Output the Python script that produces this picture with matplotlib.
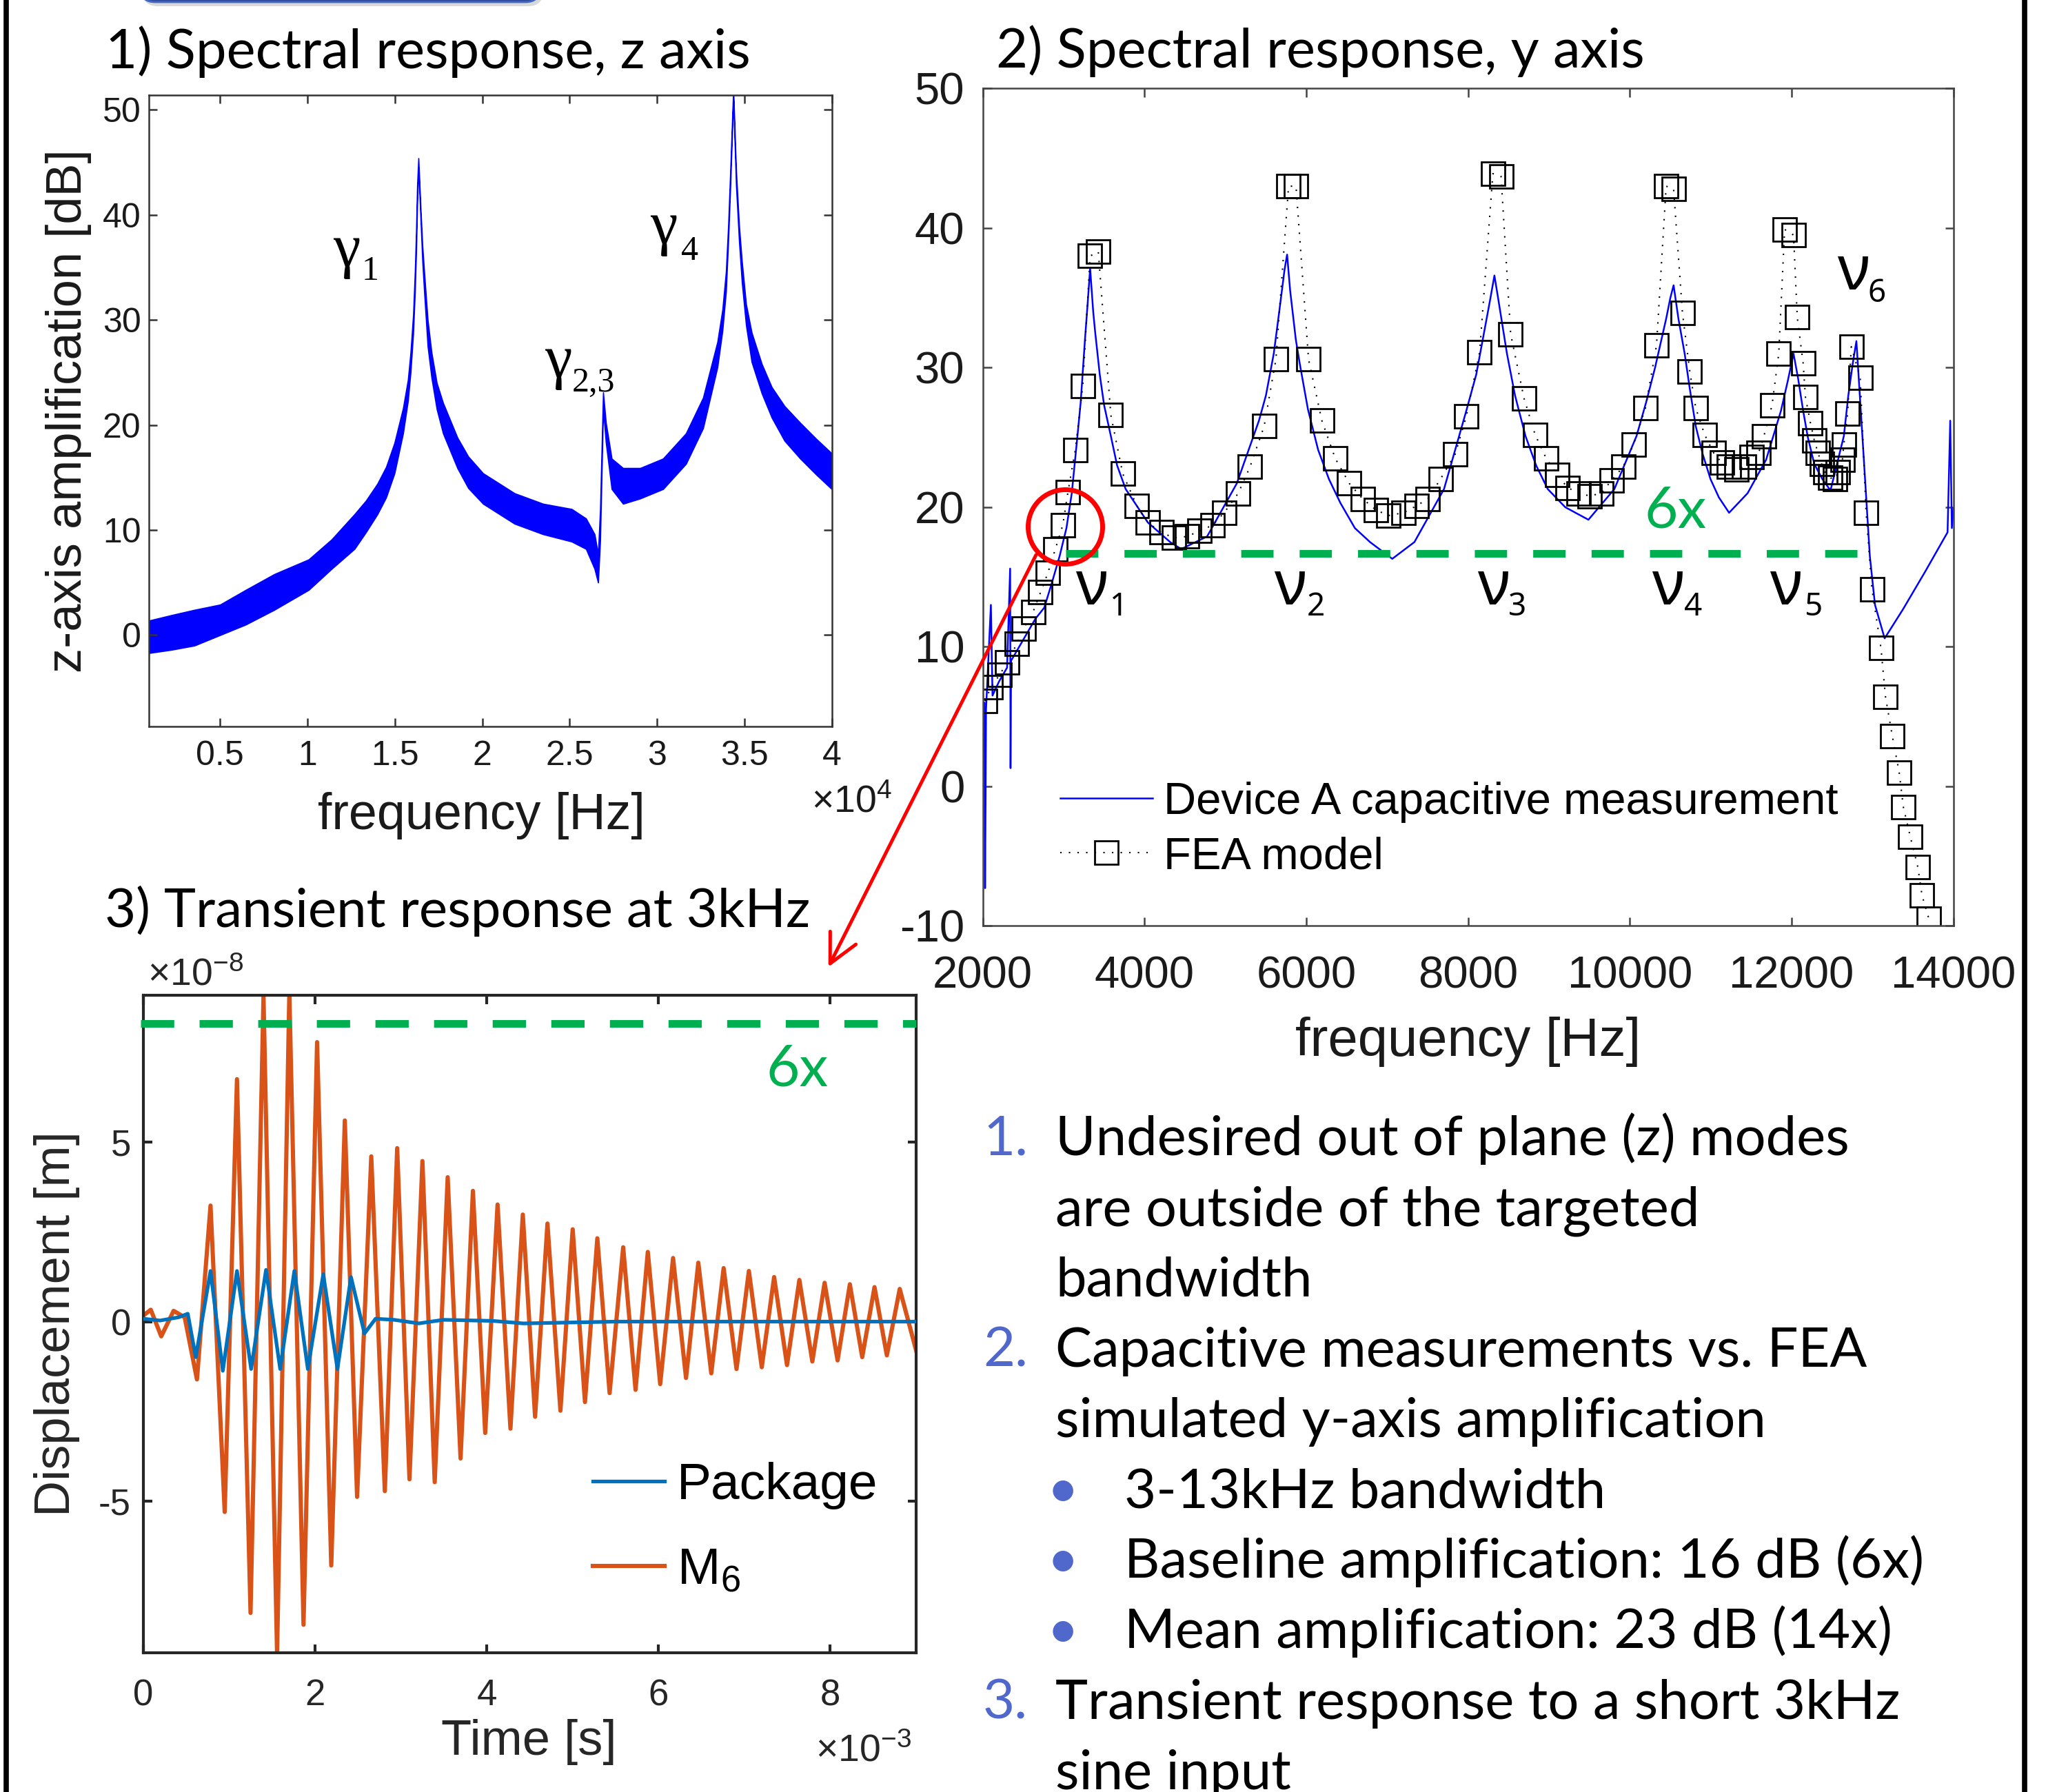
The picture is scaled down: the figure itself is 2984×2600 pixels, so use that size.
import matplotlib
matplotlib.use("Agg")
import matplotlib.pyplot as plt
from matplotlib.patches import Circle, FancyBboxPatch

##################################################
# Data
##################################################

# 1) z axis spectrum: measured trace is a noisy band, kept as upper / lower edge
z_freq = [910, 980, 2220, 3530, 5000, 6470, 8100, 10070, 11380, 12690,
          13350, 14000, 14500, 14980, 15470, 15750, 15900, 16050, 16150, 16220,
          16280, 16350, 16480, 16580, 16680, 16880, 17100, 17400, 17760, 18580,
          19200, 20050, 21850, 23480, 25120, 25940, 26430, 26630, 26750, 26920,
          27080, 27410, 28060, 29040, 30350, 31660, 32640, 33460, 33750, 33950,
          34080, 34200, 34370, 34530, 34700, 34860, 35100, 35420, 36000, 36570,
          37300, 38200, 39100, 40000]
z_hi = [1.3, 1.4, 1.9, 2.4, 2.9, 4.3, 5.8, 7.2, 9.1, 11.5,
        12.8, 14.4, 16.0, 18.3, 21.6, 24.3, 26.9, 30.5, 34.6, 38.5,
        42.8, 45.4, 40.4, 37.0, 34.6, 30.0, 26.9, 24.0, 22.1, 18.8,
        17.0, 15.4, 13.5, 12.5, 12.0, 11.1, 9.6, 7.7, 12.0, 23.1,
        20.2, 16.8, 15.9, 15.9, 16.8, 19.2, 22.6, 27.9, 31.0, 34.6,
        39.0, 44.2, 52.0, 44.2, 39.0, 35.6, 31.5, 28.8, 25.8, 23.6,
        21.8, 20.2, 18.7, 17.3]
z_lo = [-1.7, -1.7, -1.4, -1.0, 0.0, 1.0, 2.4, 4.3, 6.3, 8.2,
        9.8, 11.5, 13.1, 15.4, 19.2, 22.3, 25.0, 28.7, 32.7, 36.5,
        41.0, 44.5, 39.4, 35.5, 32.7, 27.5, 24.5, 21.5, 19.2, 15.9,
        14.0, 12.5, 10.6, 9.6, 8.9, 8.2, 6.3, 5.0, 9.0, 21.5,
        18.3, 13.9, 12.5, 13.0, 13.9, 16.3, 19.7, 25.5, 29.0, 32.7,
        37.5, 42.8, 51.0, 42.8, 37.5, 33.6, 29.5, 26.0, 23.0, 20.7,
        18.5, 16.8, 15.3, 13.9]
z_xticks = [5000, 10000, 15000, 20000, 25000, 30000, 35000, 40000]
z_xticklabels = ["0.5", "1", "1.5", "2", "2.5", "3", "3.5", "4"]
z_yticks = [0, 10, 20, 30, 40, 50]

# 2) y axis spectrum: capacitive measurement
y_meas_freq = [2000, 2020, 2028, 2040, 2100, 2120, 2200, 2300, 2338, 2343,
               2350, 2450, 2550, 2650, 2760, 2850, 2950, 3034, 3100, 3170,
               3210, 3263, 3295, 3327, 3365, 3390, 3446, 3500, 3583, 3660,
               3766, 4041, 4316, 4453, 4773, 5140, 5414, 5500, 5597, 5660,
               5730, 5762, 5800, 5870, 5918, 6020, 6146, 6280, 6421, 6600,
               6787, 7062, 7336, 7702, 7977, 8100, 8206, 8270, 8325, 8370,
               8480, 8580, 8709, 8840, 8984, 9200, 9487, 9808, 10082, 10200,
               10311, 10448, 10500, 10540, 10600, 10677, 10740, 10814, 10900, 10997,
               11100, 11226, 11455, 11684, 11867, 11950, 12023, 12080, 12142, 12200,
               12279, 12380, 12480, 12645, 12700, 12755, 12800, 12874, 12966, 13030,
               13149, 13378, 13652, 13927, 13960, 13980, 14000]
y_meas_db = [4.5, 6.0, -7.3, 5.5, 13.0, 6.5, 7.5, 8.5, 15.6, 1.3,
             9.0, 10.0, 11.0, 12.0, 12.8, 14.5, 16.5, 18.5, 21.0, 25.1,
             27.5, 32.0, 34.5, 37.1, 34.0, 32.5, 29.5, 27.3, 25.1, 23.0,
             21.3, 18.9, 17.5, 17.0, 17.9, 21.7, 26.2, 28.0, 31.0, 33.8,
             37.0, 38.1, 35.5, 32.0, 30.3, 27.0, 24.1, 22.0, 20.3, 18.5,
             17.5, 16.3, 17.5, 21.3, 26.9, 29.5, 32.8, 34.8, 36.6, 35.0,
             31.0, 28.0, 25.1, 23.0, 21.3, 20.0, 19.1, 21.3, 25.1, 27.5,
             30.0, 33.5, 35.0, 35.9, 33.5, 31.0, 28.5, 25.8, 23.8, 22.0,
             20.7, 19.6, 21.0, 23.4, 26.9, 29.0, 31.0, 29.2, 26.9, 25.0,
             23.1, 22.0, 21.2, 25.1, 28.0, 30.3, 31.9, 25.1, 16.5, 13.0,
             10.6, 12.7, 15.4, 18.2, 26.2, 18.5, 19.9]

# 2) y axis spectrum: FEA model
fea_freq = [2027, 2100, 2210, 2302, 2421, 2503, 2622, 2714, 2805, 2897,
            2988, 3053, 3144, 3236, 3327, 3428, 3583, 3730, 3904, 4041,
            4206, 4361, 4526, 4682, 4837, 4984, 5158, 5304, 5478, 5624,
            5780, 5872, 6027, 6192, 6357, 6531, 6696, 6860, 7016, 7199,
            7364, 7501, 7657, 7840, 7977, 8142, 8306, 8407, 8526, 8691,
            8828, 8965, 9102, 9231, 9368, 9505, 9643, 9771, 9917, 10045,
            10192, 10329, 10448, 10540, 10650, 10741, 10814, 10924, 11034, 11135,
            11226, 11318, 11409, 11501, 11592, 11657, 11757, 11840, 11913, 12023,
            12069, 12142, 12170, 12233, 12279, 12325, 12370, 12416, 12480, 12535,
            12572, 12627, 12645, 12691, 12737, 12847, 12920, 12993, 13104, 13160,
            13244, 13329, 13381, 13466, 13560, 13611, 13696]
fea_db = [6.1, 7.1, 8.0, 8.9, 10.2, 11.3, 12.5, 13.9, 15.3, 17.0,
          18.7, 21.1, 24.1, 28.7, 38.0, 38.3, 26.6, 22.4, 20.1, 18.9,
          18.2, 17.8, 17.9, 18.3, 18.7, 19.6, 21.0, 22.9, 25.8, 30.6,
          43.0, 43.0, 30.6, 26.2, 23.5, 21.7, 20.6, 19.8, 19.4, 19.6,
          20.1, 20.6, 22.0, 23.8, 26.5, 31.1, 43.9, 43.7, 32.4, 27.8,
          25.2, 23.5, 22.3, 21.4, 21.0, 20.8, 21.0, 21.9, 22.9, 24.5,
          27.1, 31.6, 43.0, 42.8, 33.9, 29.7, 27.1, 25.2, 23.9, 23.2,
          22.9, 22.7, 22.9, 23.6, 23.9, 25.1, 27.3, 31.0, 39.9, 39.5,
          33.6, 30.3, 27.9, 26.0, 24.8, 23.9, 23.1, 22.5, 22.1, 22.0,
          22.5, 23.4, 24.5, 26.7, 31.5, 29.3, 19.6, 14.1, 9.9, 6.4,
          3.6, 1.0, -1.5, -3.6, -5.8, -7.8, -9.5]
y_xticks = [2000, 4000, 6000, 8000, 10000, 12000, 14000]
y_yticks = [-10, 0, 10, 20, 30, 40, 50]
baseline_db = 16.7              # 16 dB (6x) baseline
baseline_band = [3025, 12876]   # Hz

# 3) transient response (time in ms, displacement in 1e-8 m)
t_m6 = [0.0, 0.086, 0.208, 0.352, 0.481, 0.624, 0.782, 0.947, 1.090, 1.248,
        1.399, 1.557, 1.700, 1.865, 2.023, 2.188, 2.346, 2.489, 2.654, 2.812,
        2.956, 3.099, 3.250, 3.393, 3.544, 3.694, 3.838, 3.981, 4.125, 4.275,
        4.419, 4.562, 4.706, 4.857, 5.000, 5.143, 5.287, 5.430, 5.588, 5.732,
        5.875, 6.019, 6.169, 6.320, 6.463, 6.614, 6.758, 6.908, 7.052, 7.202,
        7.346, 7.496, 7.640, 7.791, 7.934, 8.085, 8.228, 8.372, 8.515, 8.659,
        8.809, 9.003]
d_m6 = [0.17, 0.33, -0.41, 0.30, 0.12, -1.61, 3.23, -5.30, 6.75, -8.11,
        9.06, -9.27, 9.16, -8.44, 7.78, -6.79, 5.60, -4.88, 4.60, -4.72,
        4.83, -4.39, 4.47, -4.47, 4.02, -3.81, 3.64, -3.10, 3.26, -2.98,
        2.98, -2.65, 2.73, -2.48, 2.57, -2.24, 2.32, -1.99, 2.07, -1.90,
        1.94, -1.74, 1.77, -1.57, 1.64, -1.44, 1.49, -1.32, 1.41, -1.27,
        1.24, -1.21, 1.16, -1.11, 1.08, -1.08, 1.04, -0.99, 0.96, -0.94,
        0.91, -0.83]
t_pkg = [0.0, 0.194, 0.409, 0.517, 0.610, 0.782, 0.925, 1.090, 1.255, 1.428,
         1.593, 1.758, 1.915, 2.095, 2.260, 2.418, 2.575, 2.704, 2.920, 3.207,
         3.494, 4.067, 4.426, 5.502, 9.003]
d_pkg = [0.08, 0.03, 0.12, 0.22, -0.99, 1.41, -1.37, 1.41, -1.32, 1.44,
         -1.32, 1.41, -1.32, 1.32, -1.32, 1.24, -0.33, 0.08, 0.05, -0.05,
         0.05, 0.02, -0.05, 0.0, 0.0]
t_xticks = [0, 2, 4, 6, 8]
d_yticks = [-5, 0, 5]
six_x_disp = 8.3            # 6x level, 1e-8 m
six_x_span = [-0.032, 9.0]  # ms

# side notes
note_lines = [
    ("1.", "Undesired out of plane (z) modes"),
    ("", "are outside of the targeted"),
    ("", "bandwidth"),
    ("2.", "Capacitive measurements vs. FEA"),
    ("", "simulated y-axis amplification"),
    ("\u2022", "3-13kHz bandwidth"),
    ("\u2022", "Baseline amplification: 16 dB (6x)"),
    ("\u2022", "Mean amplification: 23 dB (14x)"),
    ("3.", "Transient response to a short 3kHz"),
    ("", "sine input"),
]

##################################################
# Figure setup
##################################################
plt.rcParams["font.family"] = ["Liberation Sans", "DejaVu Sans"]
plt.rcParams["axes.unicode_minus"] = False

W, H = 2984, 2600
fig = plt.figure(figsize=(W / 100, H / 100), dpi=100)

BLUE = "#0000FF"
GREEN = "#00B050"
SLIDE_FONT = ["Lato", "DejaVu Sans"]


def px_axes(l, t, r, b, **kw):
    # axes placed with pixel edges (top-left origin)
    return fig.add_axes([l / W, 1 - b / H, (r - l) / W, (b - t) / H], **kw)


def style_axes(ax, color, lw, tlen, lsize, xpad, ypad, tcolor):
    for s in ax.spines.values():
        s.set_color(color)
        s.set_linewidth(lw)
    ax.tick_params(direction="in", top=True, right=True, length=tlen,
                   width=lw, color=color, labelcolor=tcolor, labelsize=lsize)
    ax.tick_params(axis="x", pad=xpad)
    ax.tick_params(axis="y", pad=ypad)


##############################################
# 1) z axis spectral response
##############################################
ax1 = px_axes(215.6, 138, 1206.5, 1054)
ax1.fill_between(z_freq, z_lo, z_hi, color=BLUE, lw=1.2)
ax1.set_xlim(910, 40000)
ax1.set_ylim(-8.7, 51.4)
ax1.set_xticks(z_xticks, z_xticklabels)
ax1.set_yticks(z_yticks)
style_axes(ax1, "#333333", 1.8, 8.5, 36, 14.5, 8, "#1a1a1a")
ax1.set_xlabel("frequency [Hz]", fontsize=53, color="#1a1a1a")
ax1.xaxis.set_label_coords(0.487, -0.104)
ax1.set_ylabel("z-axis amplification [dB]", fontsize=52, color="#1a1a1a")
ax1.yaxis.set_label_coords(-0.0834, 0.5)

##############################################
# 2) y axis spectral response
##############################################
ax2 = px_axes(1425.7, 128.4, 2833.8, 1343.3)
ax2.plot(y_meas_freq, y_meas_db, color=BLUE, lw=1.8,
         label="Device A capacitive measurement")
ax2.plot(fea_freq, fea_db, color="k", lw=1.5, ls=(0, (1, 5)),
         marker="s", ms=25, mfc="none", mec="k", mew=2.0, label="FEA model")
ax2.plot(baseline_band, [baseline_db, baseline_db], color=GREEN, lw=7.9,
         ls=(0, (4.27, 3.45)))
ax2.set_xlim(2000, 14000)
ax2.set_ylim(-10, 50)
ax2.set_xticks(y_xticks)
ax2.set_yticks(y_yticks)
style_axes(ax2, "#444444", 1.8, 9, 47, 31, 19, "#1a1a1a")
ax2.set_xlabel("frequency [Hz]", fontsize=56, color="#1a1a1a")
ax2.xaxis.set_label_coords(0.5, -0.108)
ax2.legend(loc="upper left", bbox_to_anchor=(0.0798, 0.172), frameon=False,
           fontsize=47, handlelength=2.05, handletextpad=0.25, borderpad=0,
           borderaxespad=0, labelspacing=0.29)

##############################################
# 3) transient response at 3kHz
##############################################
ax3 = px_axes(208, 1443.8, 1329, 2398)
m6_line, = ax3.plot(t_m6, d_m6, color="#D95319", lw=4.4,
                    label=r"$\mathregular{M_6}$", zorder=2)
pkg_line, = ax3.plot(t_pkg, d_pkg, color="#0072BD", lw=3.8,
                     label="Package", zorder=3)
ax3.plot(six_x_span, [six_x_disp, six_x_disp], color=GREEN, lw=7.9,
         ls=(0, (4.4, 3.35)), clip_on=False, zorder=4)
ax3.set_xlim(0, 9.0)
ax3.set_ylim(-9.22, 9.09)
ax3.set_xticks(t_xticks)
ax3.set_yticks(d_yticks)
style_axes(ax3, "#262626", 3.0, 9, 38, 27, 13, "#262626")
ax3.set_xlabel("Time [s]", fontsize=52, color="#262626")
ax3.xaxis.set_label_coords(0.499, -0.101)
ax3.set_ylabel("Displacement [m]", fontsize=52, color="#262626")
ax3.yaxis.set_label_coords(-0.082, 0.5)
ax3.legend(handles=[pkg_line, m6_line], loc="upper left",
           bbox_to_anchor=(0.5816, 0.29), frameon=False, fontsize=54,
           handlelength=1.39, handletextpad=0.24, borderpad=0,
           borderaxespad=0, labelspacing=0.72)

##############################################
# slide overlay (pixel coordinates)
##############################################
ov = fig.add_axes([0, 0, 1, 1], zorder=10)
ov.set_xlim(0, W)
ov.set_ylim(H, 0)
ov.axis("off")

# frame and header box
ov.axvline(9, color="k", lw=5.5)
ov.axvline(2937, color="k", lw=5.5)
ov.add_patch(FancyBboxPatch((207, -60), 581, 69, boxstyle="round,pad=0,rounding_size=22",
                            fc="#000000", ec="none", alpha=0.15))
ov.add_patch(FancyBboxPatch((203, -60), 581, 63, boxstyle="round,pad=0,rounding_size=22",
                            fc="#2F4A9C", ec="#4466C4", lw=2))

# size the slide font so the first note line spans its width on the slide
rend = fig.canvas.get_renderer()
probe = ov.text(0, 0, note_lines[0][1], fontsize=60, family=SLIDE_FONT)
slide_fs = 60 * 1153 / probe.get_window_extent(rend).width
probe.remove()

ov.text(153, 99, "1) Spectral response, z axis", fontsize=slide_fs,
        family=SLIDE_FONT, va="baseline")
ov.text(1445, 98, "2) Spectral response, y axis", fontsize=slide_fs,
        family=SLIDE_FONT, va="baseline")
ov.text(152, 1345, "3) Transient response at 3kHz", fontsize=slide_fs * 0.98,
        family=SLIDE_FONT, va="baseline")

ov.text(2385, 765, "6x", fontsize=slide_fs * 1.05, family=SLIDE_FONT,
        color=GREEN, va="baseline")
ov.text(1112, 1576, "6x", fontsize=slide_fs * 1.05, family=SLIDE_FONT,
        color=GREEN, va="baseline")

# mode labels
nu_labels = [("1", 1560, 877, 1610, 893), ("2", 1848, 877, 1896, 893),
             ("3", 2143, 877, 2188, 893), ("4", 2396, 877, 2443, 893),
             ("5", 2567, 877, 2617, 893), ("6", 2665, 420, 2710, 438)]
for sub, x, y, xs, ys in nu_labels:
    ov.text(x, y, "\u03bd", fontsize=65, family=["Noto Sans", "DejaVu Sans"], va="baseline")
    ov.text(xs, ys, sub, fontsize=33, family=["Noto Sans", "DejaVu Sans"], va="baseline")

gamma_labels = [("1", 483, 386, 525, 406), ("4", 943, 353, 988, 377),
                ("2,3", 790, 547, 830, 568)]
for sub, x, y, xs, ys in gamma_labels:
    ov.text(x, y, "\u03b3", fontsize=64, family=["Liberation Serif", "DejaVu Serif"],
            va="baseline")
    ov.text(xs, ys, sub, fontsize=36, family=["Liberation Serif", "DejaVu Serif"],
            va="baseline")

# axis exponents
ov.text(1177, 1178, r"$\mathregular{\times10^{4}}$", fontsize=40, color="#1a1a1a",
        va="baseline")
ov.text(214, 1430, r"$\mathregular{\times10^{-8}}$", fontsize=40, color="#262626",
        va="baseline")
ov.text(1183, 2555, r"$\mathregular{\times10^{-3}}$", fontsize=40, color="#262626",
        va="baseline")

# red highlight of the 3kHz FEA point and arrow to the transient plot
ov.add_patch(Circle((1545.5, 764.5), 54, fill=False, ec="#FF0000", lw=5))
ov.annotate("", xy=(1201.7, 1403), xytext=(1503, 805),
            arrowprops=dict(arrowstyle="->,head_length=1.0,head_width=0.5",
                            color="#FF0000", lw=3.6, mutation_scale=30,
                            shrinkA=0, shrinkB=0))

# side notes
NUM_COLOR = "#5068CC"
for i, (mark, txt) in enumerate(note_lines):
    yb = 1676 + i * 102.2
    if mark == "\u2022":
        ov.text(1519, yb, mark, fontsize=slide_fs, family=SLIDE_FONT,
                color=NUM_COLOR, va="baseline")
        ov.text(1631, yb, txt, fontsize=slide_fs, family=SLIDE_FONT, va="baseline")
    else:
        if mark:
            ov.text(1426, yb, mark, fontsize=slide_fs, family=SLIDE_FONT,
                    color=NUM_COLOR, va="baseline")
        ov.text(1531, yb, txt, fontsize=slide_fs, family=SLIDE_FONT, va="baseline")

fig.savefig("out.png", dpi=100)
